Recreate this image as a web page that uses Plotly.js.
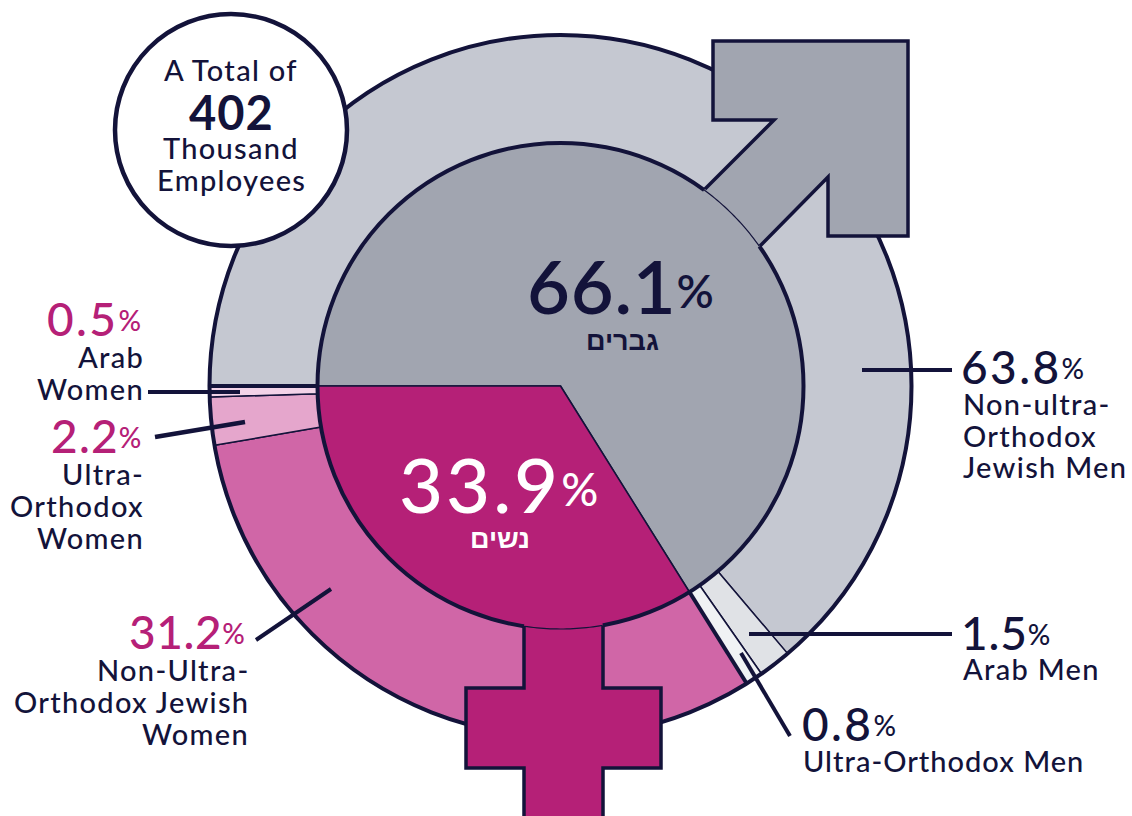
<!DOCTYPE html>
<html><head><meta charset="utf-8">
<script src="https://cdn.plot.ly/plotly-3.0.1.min.js"></script>
<style>html,body{margin:0;padding:0;background:#fff;overflow:hidden}#c{width:1132px;height:816px}</style>
</head><body><div id="c"></div>
<script>
const outerLabels=["Non-ultra-Orthodox Jewish Men","Arab Men","Ultra-Orthodox Men","Non-Ultra-Orthodox Jewish Women","Ultra-Orthodox Women","Arab Women"];
const outerValues=[63.8,1.5,0.8,31.2,2.2,0.5];
const outerColors=["#c5c8d1","#e0e2e6","#f0f2f4","#d066a7","#e5a6cc","#f3d3e8"];
const innerLabels=["גברים","נשים"];
const innerValues=[66.1,33.9];
const innerColors=["#a1a5b0","#b52077"];
const NAVY="#13133a",MAG="#b52077";
const W=1132,H=816,CX=560.5,CY=386,RO=351,RI=243;
const px=x=>x/W, py=y=>1-y/H;
const pt=(x,y)=>px(x)+" "+py(y);
const FONT="Lato, sans-serif", HEB="'Liberation Sans', sans-serif";

const pieBase={type:"pie",sort:false,direction:"clockwise",rotation:270,textinfo:"none",hoverinfo:"skip",showlegend:false};
const traces=[
 Object.assign({},pieBase,{labels:outerLabels,values:outerValues,hole:RI/RO,marker:{colors:outerColors,line:{color:NAVY,width:1.5}},
   domain:{x:[px(CX-RO),px(CX+RO)],y:[py(CY+RO),py(CY-RO)]}}),
 Object.assign({},pieBase,{labels:innerLabels,values:innerValues,marker:{colors:innerColors,line:{color:NAVY,width:1.5}},
   domain:{x:[px(CX-RI),px(CX+RI)],y:[py(CY+RI),py(CY-RI)]}})
];

function circle(cx,cy,r,w,fill){return {type:"circle",xref:"paper",yref:"paper",layer:"above",x0:px(cx-r),x1:px(cx+r),y0:py(cy+r),y1:py(cy-r),line:{color:NAVY,width:w},fillcolor:fill||"rgba(0,0,0,0)"};}
function seg(x0,y0,x1,y1,w){return {type:"line",xref:"paper",yref:"paper",layer:"above",x0:px(x0),y0:py(y0),x1:px(x1),y1:py(y1),line:{color:NAVY,width:w}};}
function path(pts,close,fill,w){const d="M"+pts.map(p=>pt(p[0],p[1])).join(" L")+(close?" Z":"");
  return {type:"path",xref:"paper",yref:"paper",layer:"above",path:d,fillcolor:fill||"rgba(0,0,0,0)",line:{color:NAVY,width:w||0}};}
function arc(a0,a1,r){const out=[];for(let i=0;i<=24;i++){const a=a0+(a1-a0)*i/24;out.push([CX+r*Math.cos(a),CY+r*Math.sin(a)]);}return out;}
function radial(pct,w){const a=Math.PI+pct/100*2*Math.PI;return seg(CX+RI*Math.cos(a),CY+RI*Math.sin(a),CX+RO*Math.cos(a),CY+RO*Math.sin(a),w);}
const ang=(x,y)=>Math.atan2(y-CY,x-CX);

const arrowEdge=[[705,189],[774,120],[713,120],[713,41],[908,41],[908,236],[828,236],[828,177],[760,246]];
const crossEdge=[[524,626],[524,688],[466,688],[466,768],[524,768],[524,822]];
const crossEdgeR=[[603,626],[603,688],[661,688],[661,768],[603,768],[603,822]];

const a1=ang(760,246),a0=ang(705,189);
const b0=ang(524,626),b1=ang(603,626);
const shapes=[
 circle(CX,CY,RO,4),
 circle(CX,CY,RI,4),
 radial(0,4),
 radial(innerValues[0],4),
 path(arrowEdge.concat(arc(a1,a0,RI-4)),true,innerColors[0],0),
 path(crossEdge.concat(crossEdgeR.slice().reverse()).concat(arc(b1,b0,RI-4)),true,innerColors[1],0),
 path(arrowEdge,false,null,3.5),
 path(arc(a0,a1,RI),false,null,1.2),
 path(crossEdge,false,null,3.5),
 path(crossEdgeR,false,null,3.5),
 path(arc(b1,b0,RI),false,null,1.2),
 circle(231,130,116,4.5,"#ffffff"),
 seg(862,370,952,370,4),
 seg(749,634,952,634,4),
 seg(741,653,790,736,4),
 seg(256,640,331,589,4),
 seg(155,437,245,422,4.5),
 seg(148,392,240,392,4)
];

function note(text,x,y,anchor,size,color,font,weight,ls){return {xref:"paper",yref:"paper",x:px(x),y:py(y),xanchor:anchor,yanchor:"middle",showarrow:false,align:anchor,borderpad:0,
  text:'<span style="letter-spacing:'+(ls===undefined?1.3:ls)+'px">'+text+'</span>',font:{family:font||FONT,size:size,color:color||NAVY,weight:weight||500}};}
const pct=(v,s,r)=>v+'<span style="font-size:'+s+'px;letter-spacing:0px;baseline-shift:'+r+'px">%</span>';
const LAB=29,NUM=46,SYM=28,UP=5;

const annotations=[
 note("A Total of",231,69,"center",LAB),
 note("402",231,112,"center",47,NAVY,FONT,700,1),
 note("Thousand",231,147,"center",LAB),
 note("Employees",231,179,"center",LAB),
 note(pct("66.1",46,6),526,285,"left",74,NAVY,FONT,600,.8),
 note(innerLabels[0],622,341,"center",27,NAVY,HEB,700,0),
 note(pct("33.9",46,7),398,483,"left",76,"#ffffff",FONT,500,3),
 note(innerLabels[1],500,539,"center",27,"#ffffff",HEB,700,0),
 note(pct("63.8",SYM,UP),960,367,"left",NUM,NAVY,FONT,500,2.4),
 note("Non-ultra-",962,403,"left",LAB),
 note("Orthodox",962,435,"left",LAB),
 note("Jewish Men",962,466,"left",LAB),
 note(pct("1.5",SYM,UP),960,632,"left",NUM,NAVY,FONT,500,.8),
 note("Arab Men",962,668,"left",LAB),
 note(pct("0.8",SYM,UP),801,723,"left",NUM,NAVY,FONT,500,2.4),
 note("Ultra-Orthodox Men",802,760,"left",LAB,NAVY,FONT,500,1),
 note(pct("0.5",SYM,UP),142,319,"right",NUM,MAG,FONT,500,2.4),
 note("Arab",145,356,"right",LAB),
 note("Women",145,388,"right",LAB),
 note(pct("2.2",SYM,UP),142,435,"right",NUM,MAG,FONT,500,1.2),
 note("Ultra-",145,473,"right",LAB),
 note("Orthodox",145,505,"right",LAB),
 note("Women",145,537,"right",LAB),
 note(pct("31.2",SYM,UP),246,631,"right",NUM,MAG,FONT,500,0.6),
 note("Non-Ultra-",250,669,"right",LAB),
 note("Orthodox Jewish",250,701,"right",LAB),
 note("Women",250,733,"right",LAB)
];

Plotly.newPlot("c",traces,{width:W,height:H,margin:{l:0,r:0,t:0,b:0},paper_bgcolor:"#fff",plot_bgcolor:"#fff",showlegend:false,shapes:shapes,annotations:annotations},{displayModeBar:false,staticPlot:true});
</script></body></html>
